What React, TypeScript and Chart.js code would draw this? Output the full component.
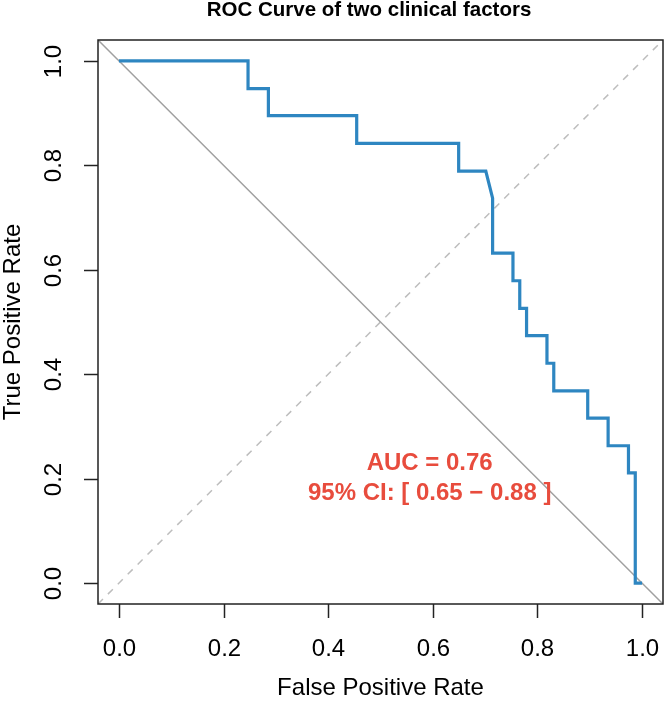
import React, { useEffect, useRef } from "react";
import { Chart, registerables } from "chart.js";

Chart.register(...registerables);

// ROC curve data (false positive rate, true positive rate)
const fpr = [0, 0.2468, 0.2468, 0.2857, 0.2857, 0.4545, 0.4545, 0.6494, 0.6494, 0.7013, 0.7143, 0.7143, 0.7532, 0.7532, 0.7662, 0.7662, 0.7792, 0.7792, 0.8182, 0.8182, 0.8312, 0.8312, 0.8961, 0.8961, 0.9351, 0.9351, 0.974, 0.974, 0.987, 0.987, 1.0];
const tpr = [1, 1, 0.947, 0.947, 0.895, 0.895, 0.842, 0.842, 0.789, 0.789, 0.737, 0.632, 0.632, 0.579, 0.579, 0.526, 0.526, 0.474, 0.474, 0.421, 0.421, 0.368, 0.368, 0.316, 0.316, 0.263, 0.263, 0.211, 0.211, 0, 0];

// reference lines
const refX = [-0.04, 1.04];
const chanceY = [-0.04, 1.04];
const antiY = [1.04, -0.04];

const xTicks = [0, 0.2, 0.4, 0.6, 0.8, 1.0];
const yTicks = [0, 0.2, 0.4, 0.6, 0.8, 1.0];
const xTickLabels = ["0.0", "0.2", "0.4", "0.6", "0.8", "1.0"];
const yTickLabels = ["0.0", "0.2", "0.4", "0.6", "0.8", "1.0"];

const titleText = "ROC Curve of two clinical factors";
const xTitle = "False Positive Rate";
const yTitle = "True Positive Rate";
const aucLines = ["AUC = 0.76", "95% CI: [ 0.65 \u2212 0.88 ]"];
const aucPos = { x: 0.594, y: [0.229, 0.171] };

const FONT = "'Liberation Sans', Arial, Helvetica, sans-serif";

export default function App() {
  const ref = useRef<HTMLCanvasElement | null>(null);

  useEffect(() => {
    if (!ref.current) return;
    const decor = {
      id: "rdecor",
      afterDatasetsDraw(chart: any) {
        const { ctx, scales } = chart;
        const x = scales.x;
        const y = scales.y;
        ctx.save();
        ctx.fillStyle = "#E84C3D";
        ctx.font = `bold 24px ${FONT}`;
        ctx.textAlign = "center";
        ctx.textBaseline = "middle";
        aucLines.forEach((t, i) => {
          ctx.fillText(t, x.getPixelForValue(aucPos.x), y.getPixelForValue(aucPos.y[i]));
        });
        ctx.restore();
      },
      afterDraw(chart: any) {
        const { ctx, chartArea: a, scales } = chart;
        const x = scales.x;
        const y = scales.y;
        ctx.save();
        ctx.strokeStyle = "#222";
        ctx.lineWidth = 1.5;
        ctx.strokeRect(a.left, a.top, a.right - a.left, a.bottom - a.top);
        ctx.fillStyle = "#000";
        ctx.font = `24px ${FONT}`;
        ctx.textAlign = "center";
        ctx.textBaseline = "middle";
        xTicks.forEach((v, i) => {
          const px = Math.round(x.getPixelForValue(v)) + 0.5;
          ctx.beginPath();
          ctx.moveTo(px, a.bottom);
          ctx.lineTo(px, a.bottom + 14);
          ctx.stroke();
          ctx.fillText(xTickLabels[i], px, 649);
        });
        yTicks.forEach((v, i) => {
          const py = Math.round(y.getPixelForValue(v)) + 0.5;
          ctx.beginPath();
          ctx.moveTo(a.left, py);
          ctx.lineTo(a.left - 14, py);
          ctx.stroke();
          ctx.save();
          ctx.translate(54, py);
          ctx.rotate(-Math.PI / 2);
          ctx.fillText(yTickLabels[i], 0, 0);
          ctx.restore();
        });
        ctx.fillText(xTitle, (a.left + a.right) / 2, 688);
        ctx.save();
        ctx.translate(13, (a.top + a.bottom) / 2);
        ctx.rotate(-Math.PI / 2);
        ctx.fillText(yTitle, 0, 0);
        ctx.restore();
        ctx.font = `bold 20.5px ${FONT}`;
        ctx.textBaseline = "alphabetic";
        ctx.fillText(titleText, 369, 16);
        ctx.restore();
      },
    };

    const chart = new Chart(ref.current, {
      type: "scatter",
      data: {
        datasets: [
          {
            label: "ROC",
            data: fpr.map((v, i) => ({ x: v, y: tpr[i] })),
            showLine: true,
            borderColor: "#2E86C1",
            borderWidth: 3.2,
            pointRadius: 0,
            tension: 0,
            order: 0,
          },
          {
            label: "anti",
            data: refX.map((v, i) => ({ x: v, y: antiY[i] })),
            showLine: true,
            borderColor: "#A0A0A0",
            borderWidth: 1.5,
            pointRadius: 0,
            order: 1,
          },
          {
            label: "chance",
            data: refX.map((v, i) => ({ x: v, y: chanceY[i] })),
            showLine: true,
            borderColor: "#BDBDBD",
            borderWidth: 1.5,
            borderDash: [7, 7],
            pointRadius: 0,
            order: 2,
          },
        ],
      },
      options: {
        responsive: false,
        animation: false,
        layout: { padding: { top: 40, right: 1, left: 0, bottom: 0 } },
        plugins: { legend: { display: false }, tooltip: { enabled: false }, title: { display: false } },
        scales: {
          x: {
            type: "linear",
            min: -0.04,
            max: 1.04,
            grid: { display: false },
            border: { display: false },
            ticks: { display: false },
            afterFit: (s: any) => {
              s.height = 98;
            },
          },
          y: {
            type: "linear",
            min: -0.04,
            max: 1.04,
            grid: { display: false },
            border: { display: false },
            ticks: { display: false },
            afterFit: (s: any) => {
              s.width = 98;
            },
          },
        },
      },
      plugins: [decor],
    });
    return () => chart.destroy();
  }, []);

  return (
    <div style={{ position: "fixed", left: 0, top: 0, width: 664, height: 702, background: "#fff" }}>
      <canvas ref={ref} width={664} height={702} style={{ width: 664, height: 702, display: "block" }} />
    </div>
  );
}
